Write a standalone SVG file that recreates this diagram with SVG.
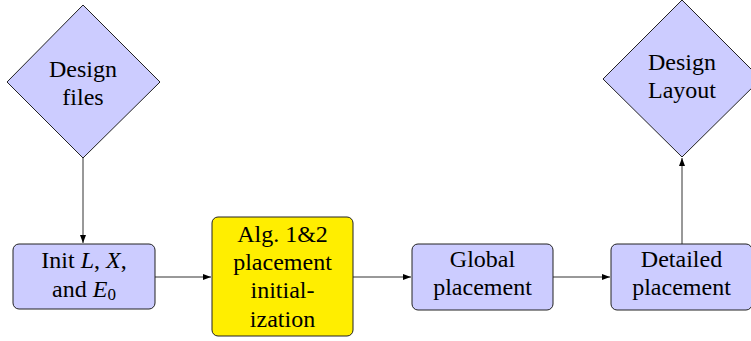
<svg xmlns="http://www.w3.org/2000/svg" width="751" height="341" viewBox="0 0 751 341">
<defs>
<marker id="ah" viewBox="0 0 8 6" refX="8" refY="3" markerWidth="8" markerHeight="6" markerUnits="userSpaceOnUse" orient="auto">
<path d="M0,0 L8,3 L0,6 Z" fill="#000"/>
</marker>
</defs>
<style>
.n{fill:#ccccff;stroke:#222;stroke-width:1}
.y{fill:#ffee00;stroke:#222;stroke-width:1}
.c{stroke:#333;stroke-width:1;fill:none;marker-end:url(#ah)}
</style>
<rect width="751" height="341" fill="#fff"/>
<g id="connectors">
<line class="c" x1="83" y1="157" x2="83" y2="243"/>
<line class="c" x1="155" y1="277" x2="211" y2="277"/>
<line class="c" x1="353" y1="277" x2="411" y2="277"/>
<line class="c" x1="553" y1="277" x2="610" y2="277"/>
<line class="c" x1="682" y1="244" x2="682" y2="158"/>
</g>
<g font-family="Liberation Serif, serif" font-size="24" text-anchor="middle" fill="#000">
<g id="design-files">
<polygon class="n" points="83,5 160,82 83,158 7,82"/>
<text x="83" y="77">Design</text>
<text x="83" y="105">files</text>
</g>
<g id="init">
<rect class="n" x="13" y="244" width="142" height="65" rx="6"/>
<text x="84" y="268">Init <tspan font-style="italic">L</tspan>, <tspan font-style="italic">X</tspan>,</text>
<text x="84" y="297">and <tspan font-style="italic">E</tspan><tspan font-size="17" dy="3">0</tspan></text>
</g>
<g id="alg">
<rect class="y" x="212" y="217" width="141" height="119" rx="6"/>
<text x="282.5" y="242">Alg. 1&amp;2</text>
<text x="282.5" y="270">placement</text>
<text x="282.5" y="298">initial-</text>
<text x="282.5" y="327">ization</text>
</g>
<g id="global">
<rect class="n" x="412" y="244" width="141" height="66" rx="6"/>
<text x="482.5" y="267">Global</text>
<text x="482.5" y="295">placement</text>
</g>
<g id="detailed">
<rect class="n" x="611" y="244" width="141" height="66" rx="6"/>
<text x="681.5" y="267">Detailed</text>
<text x="681.5" y="295">placement</text>
</g>
<g id="design-layout">
<polygon class="n" points="682,0 761,79 682,157 603,79"/>
<text x="682" y="70">Design</text>
<text x="682" y="98">Layout</text>
</g>
</g>
</svg>
